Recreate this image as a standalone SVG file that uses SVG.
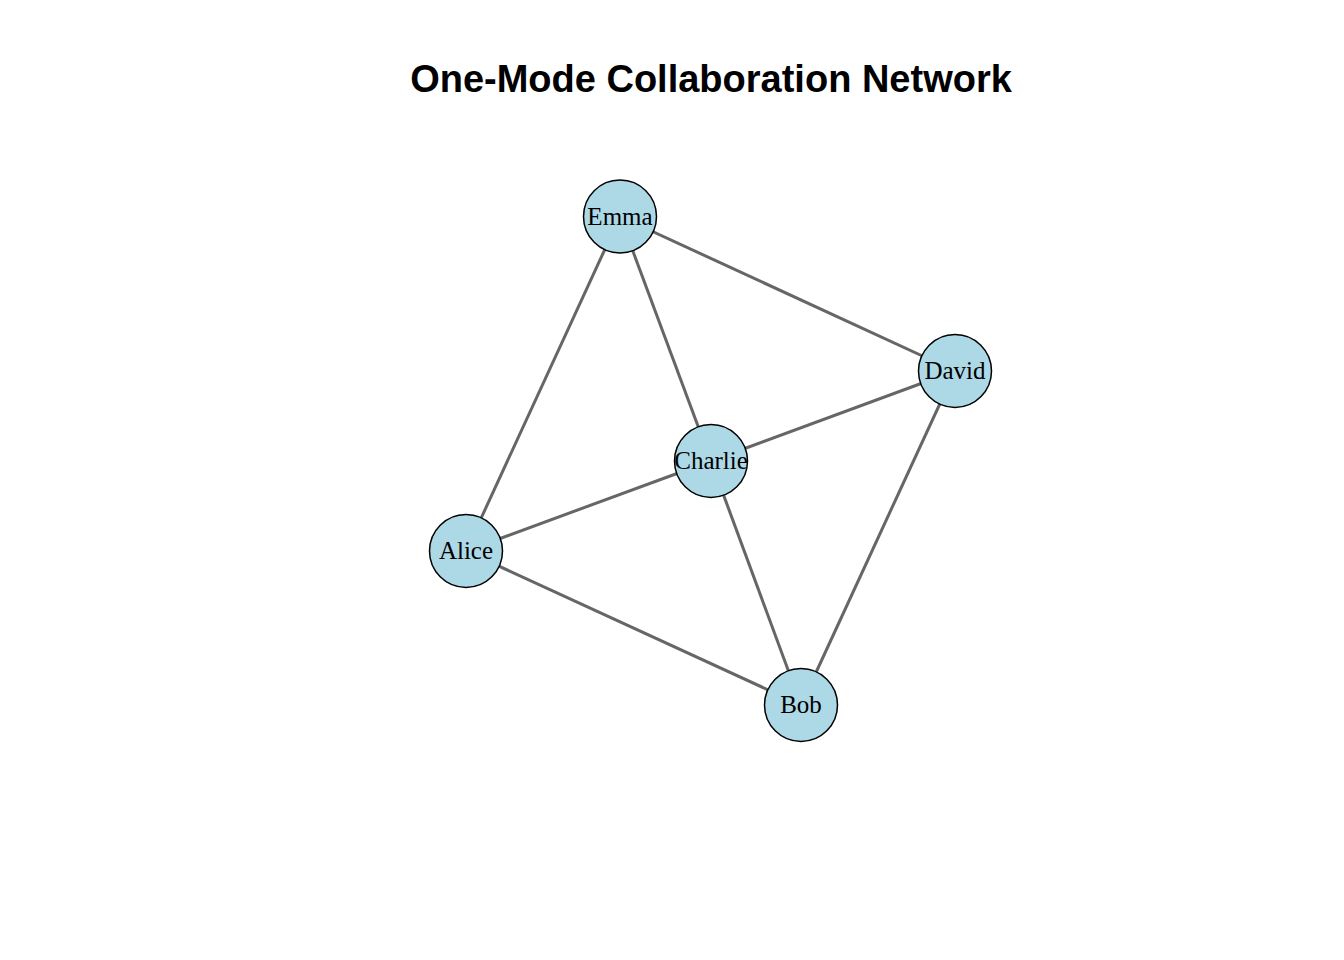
<svg xmlns="http://www.w3.org/2000/svg" width="1344" height="960" viewBox="0 0 1344 960">
<style>
.edge{stroke:#666666;stroke-width:3;fill:none}
.node circle{fill:#ADD8E6;stroke:#000;stroke-width:1.5}
.node text{font-family:"Liberation Serif","Times New Roman",serif;font-size:25px;fill:#000;text-anchor:middle}
.title{font-family:"Liberation Sans",Arial,sans-serif;font-weight:bold;font-size:38px;text-anchor:middle;fill:#000}
</style>
<rect width="1344" height="960" fill="#fff"/>
<text class="title" x="711" y="92">One-Mode Collaboration Network</text>
<g id="edges">
<line class="edge" x1="620" y1="216.5" x2="466" y2="551"/>
<line class="edge" x1="620" y1="216.5" x2="711" y2="461"/>
<line class="edge" x1="620" y1="216.5" x2="955" y2="371"/>
<line class="edge" x1="955" y1="371" x2="711" y2="461"/>
<line class="edge" x1="955" y1="371" x2="801" y2="705"/>
<line class="edge" x1="711" y1="461" x2="466" y2="551"/>
<line class="edge" x1="711" y1="461" x2="801" y2="705"/>
<line class="edge" x1="466" y1="551" x2="801" y2="705"/>
</g>
<g id="node-emma" class="node"><circle cx="620" cy="216.5" r="36.5"/><text x="620" y="224.5">Emma</text></g>
<g id="node-david" class="node"><circle cx="955" cy="371" r="36.5"/><text x="955" y="379">David</text></g>
<g id="node-charlie" class="node"><circle cx="711" cy="461" r="36.5"/><text x="711" y="469">Charlie</text></g>
<g id="node-alice" class="node"><circle cx="466" cy="551" r="36.5"/><text x="466" y="559">Alice</text></g>
<g id="node-bob" class="node"><circle cx="801" cy="705" r="36.5"/><text x="801" y="713">Bob</text></g>
</svg>
